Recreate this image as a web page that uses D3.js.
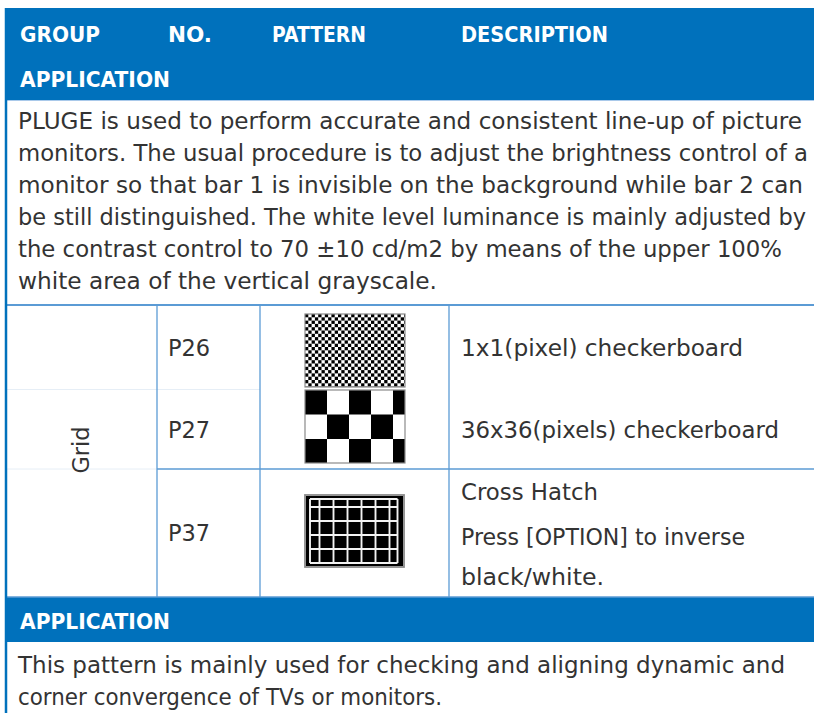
<!DOCTYPE html>
<html>
<head>
<meta charset="utf-8">
<script src="https://cdn.jsdelivr.net/npm/d3@7"></script>
<style>
html,body{margin:0;padding:0;background:#fff;}
svg{display:block;}
</style>
</head>
<body>
<svg id="chart" width="814" height="713"></svg>
<script>
// ---- data ----
const headerCols = ["GROUP", "NO.", "PATTERN", "DESCRIPTION"];
const appTitle = "APPLICATION";
const introLines = [
  "PLUGE is used to perform accurate and consistent line-up of picture",
  "monitors. The usual procedure is to adjust the brightness control of a",
  "monitor so that bar 1 is invisible on the background while bar 2 can",
  "be still distinguished. The white level luminance is mainly adjusted by",
  "the contrast control to 70 \u00b110 cd/m2 by means of the upper 100%",
  "white area of the vertical grayscale."
];
const groupName = "Grid";
const patternNos = ["P26", "P27", "P37"];
const patternKinds = ["checker-fine", "checker-coarse", "crosshatch"];
const patternDesc = [
  ["1x1(pixel) checkerboard"],
  ["36x36(pixels) checkerboard"],
  ["Cross Hatch", "Press [OPTION] to inverse", "black/white."]
];
const outroLines = [
  "This pattern is mainly used for checking and aligning dynamic and",
  "corner convergence of TVs or monitors."
];

// ---- layout ----
const W = 814;
const BLUE = "#0071bc";
const LINE = "#5b9bd5";
const TEXT = "#333333";
const FONT = "'DejaVu Sans', sans-serif";
const colX = [6, 157, 260, 449, W];           // column boundaries
const introRight = [802, 808, 803, 806, 782, 437];
const outroRight = [785, 442];
const headRight = [100, 212, 366, 608];
const descRight = [[743], [779], [598, 745, 604]];
const appRight = 170;
const svg = d3.select("#chart");

function measure(str, size, weight) {
  const t = svg.append("text").attr("font-family", FONT).attr("font-size", size)
    .attr("font-weight", weight).text(str);
  const w = t.node().getComputedTextLength();
  t.remove();
  return w;
}
// font size so that every intro line fits naturally inside its reference width
const bodySize = d3.min(introLines.slice(0, 5), (d, i) => 20 * (introRight[i] - 18) / measure(d, 20, "normal"));
const headSize = 21.5;

// header band
svg.append("rect").attr("x", 6).attr("y", 8).attr("width", W - 6).attr("height", 92).attr("fill", BLUE);
const headX = d3.scaleOrdinal().domain(headerCols).range([20, 168, 272, 461]);
svg.selectAll("text.hc").data(headerCols).join("text").attr("class", "hc")
  .attr("x", d => headX(d)).attr("y", 42)
  .attr("font-family", FONT).attr("font-weight", "bold").attr("font-size", headSize)
  .attr("textLength", (d, i) => headRight[i] - headX(d)).attr("lengthAdjust", "spacingAndGlyphs")
  .attr("fill", "#fff").text(d => d);
svg.append("text").attr("x", 20).attr("y", 87)
  .attr("font-family", FONT).attr("font-weight", "bold").attr("font-size", headSize)
  .attr("textLength", appRight - 20).attr("lengthAdjust", "spacingAndGlyphs")
  .attr("fill", "#fff").text(appTitle);
svg.append("line").attr("x1", 6).attr("x2", W).attr("y1", 100.5).attr("y2", 100.5)
  .attr("stroke", "#a9c9ea").attr("stroke-width", 1);

// intro paragraph
const lineY = d3.scaleLinear().domain([0, 1]).range([129, 161]);
svg.selectAll("text.intro").data(introLines).join("text").attr("class", "intro")
  .attr("x", 18).attr("y", (d, i) => lineY(i))
  .attr("textLength", (d, i) => introRight[i] - 18).attr("lengthAdjust", "spacingAndGlyphs")
  .attr("font-family", FONT).attr("font-size", bodySize).attr("fill", TEXT).text(d => d);

// horizontal separators
svg.append("line").attr("x1", 6).attr("x2", W).attr("y1", 305).attr("y2", 305)
  .attr("stroke", LINE).attr("stroke-width", 2);
svg.append("line").attr("x1", colX[0]).attr("x2", colX[2]).attr("y1", 389.5).attr("y2", 389.5)
  .attr("stroke", "#e6eef6").attr("stroke-width", 1);
svg.append("line").attr("x1", colX[0]).attr("x2", colX[1]).attr("y1", 469).attr("y2", 469)
  .attr("stroke", "#e6eef6").attr("stroke-width", 1);
svg.append("line").attr("x1", colX[1]).attr("x2", W).attr("y1", 469).attr("y2", 469)
  .attr("stroke", LINE).attr("stroke-width", 1.5);
// vertical separators
svg.selectAll("line.col").data(colX.slice(1, 4)).join("line").attr("class", "col")
  .attr("x1", d => d).attr("x2", d => d).attr("y1", 305).attr("y2", 597)
  .attr("stroke", LINE).attr("stroke-width", 1.3);

// group label
svg.append("text").attr("transform", "translate(89,450) rotate(-90)")
  .attr("text-anchor", "middle")
  .attr("font-family", FONT).attr("font-size", bodySize).attr("fill", TEXT).text(groupName);

// numbers
const noY = [356, 438, 541];
svg.selectAll("text.no").data(patternNos).join("text").attr("class", "no")
  .attr("x", 168).attr("y", (d, i) => noY[i])
  .attr("font-family", FONT).attr("font-size", bodySize).attr("fill", TEXT).text(d => d);

// descriptions
const descY = [[356], [438], [500, 545, 585]];
patternDesc.forEach((lines, r) => {
  svg.selectAll("text.d" + r).data(lines).join("text").attr("class", "d" + r)
    .attr("x", 461).attr("y", (d, i) => descY[r][i])
    .attr("textLength", (d, i) => descRight[r][i] - 461).attr("lengthAdjust", "spacingAndGlyphs")
    .attr("font-family", FONT).attr("font-size", bodySize).attr("fill", TEXT).text(d => d);
});

// pattern images
const imgBox = [
  {x: 305, y: 314, w: 100, h: 73},
  {x: 305, y: 390, w: 100, h: 73},
  {x: 305, y: 495, w: 99, h: 72}
];
patternKinds.forEach((kind, r) => {
  const b = imgBox[r];
  const g = svg.append("g").attr("transform", `translate(${b.x},${b.y})`);
  if (kind.startsWith("checker")) {
    const cw = kind === "checker-fine" ? 3.3 : 22;
    const ch = kind === "checker-fine" ? 3.3 : 24.5;
    const nc = Math.ceil(b.w / cw), nr = Math.ceil(b.h / ch);
    const xs = d3.scaleLinear().domain([0, 1]).range([0, cw]);
    const ys = d3.scaleLinear().domain([0, 1]).range([0, ch]);
    const cells = [];
    d3.range(nr).forEach(j => d3.range(nc).forEach(i => { if ((i + j) % 2 === 0) cells.push({i, j}); }));
    g.append("rect").attr("width", b.w).attr("height", b.h).attr("fill", "#fff");
    g.append("clipPath").attr("id", "clip" + r).append("rect").attr("width", b.w).attr("height", b.h);
    g.append("g").attr("clip-path", `url(#clip${r})`).selectAll("rect").data(cells).join("rect")
      .attr("x", d => xs(d.i)).attr("y", d => ys(d.j)).attr("width", cw).attr("height", ch)
      .attr("fill", "#000");
    g.append("rect").attr("width", b.w).attr("height", b.h).attr("fill", "none")
      .attr("stroke", "#8a8a8a").attr("stroke-width", 1.2);
  } else {
    g.append("rect").attr("x", 1).attr("y", 1).attr("width", b.w - 2).attr("height", b.h - 2).attr("fill", "#000");
    const vx = [5].concat(d3.range(6).map(i => 14.5 + i * 14)).concat([92.5]);
    const hy = [4].concat(d3.range(5).map(i => 12 + i * 14));
    g.selectAll("line.v").data(vx).join("line").attr("class", "v")
      .attr("x1", d => d).attr("x2", d => d).attr("y1", 4).attr("y2", b.h - 4)
      .attr("stroke", "#f2f2f2").attr("stroke-width", 1.9);
    g.selectAll("line.h").data(hy).join("line").attr("class", "h")
      .attr("x1", 5).attr("x2", 92.5).attr("y1", d => d).attr("y2", d => d)
      .attr("stroke", "#f2f2f2").attr("stroke-width", 1.9);
    g.append("rect").attr("width", b.w).attr("height", b.h).attr("fill", "none")
      .attr("stroke", "#8a8a8a").attr("stroke-width", 1.8);
  }
});

// bottom application band
svg.append("rect").attr("x", 6).attr("y", 597).attr("width", W - 6).attr("height", 45).attr("fill", BLUE);
svg.append("line").attr("x1", 6).attr("x2", W).attr("y1", 597).attr("y2", 597)
  .attr("stroke", LINE).attr("stroke-width", 1.5);
svg.append("text").attr("x", 20).attr("y", 629)
  .attr("font-family", FONT).attr("font-weight", "bold").attr("font-size", headSize)
  .attr("textLength", appRight - 20).attr("lengthAdjust", "spacingAndGlyphs")
  .attr("fill", "#fff").text(appTitle);
svg.selectAll("text.outro").data(outroLines).join("text").attr("class", "outro")
  .attr("x", 18).attr("y", (d, i) => 673 + i * 32)
  .attr("textLength", (d, i) => outroRight[i] - 18).attr("lengthAdjust", "spacingAndGlyphs")
  .attr("font-family", FONT).attr("font-size", bodySize).attr("fill", TEXT).text(d => d);

// left border
svg.append("line").attr("x1", 6).attr("x2", 6).attr("y1", 8).attr("y2", 713)
  .attr("stroke", BLUE).attr("stroke-width", 2.5);
</script>
</body>
</html>
